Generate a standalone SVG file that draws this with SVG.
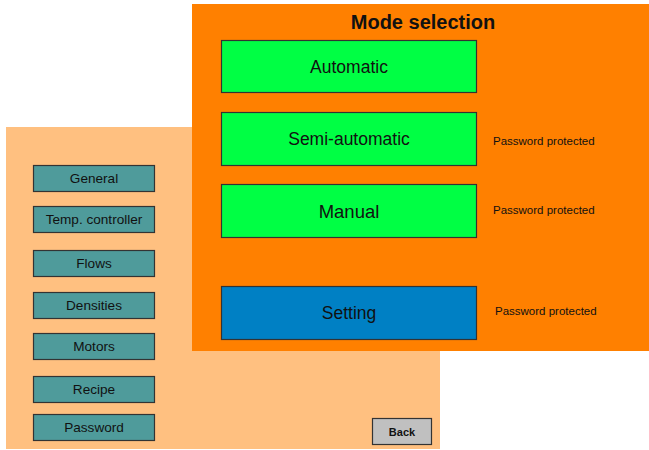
<svg xmlns="http://www.w3.org/2000/svg" width="649" height="450" viewBox="0 0 649 450">
  <style>
    .btn { stroke: #333333; stroke-width: 1.2; }
    .side { fill: #4f9b9b; }
    .green { fill: #00ff44; }
    .blue { fill: #0080c4; }
    .gray { fill: #c0c0c0; }
    text { font-family: "Liberation Sans", Arial, sans-serif; fill: #111111; text-anchor: middle; }
    .small { font-size: 13.6px; }
    .big { font-size: 17.5px; }
    .note { font-size: 11.5px; text-anchor: start; }
  </style>

  <rect width="649" height="450" fill="#ffffff"/>

  <!-- Menu panel (back window) -->
  <g id="menu-panel">
    <rect x="6" y="127" width="434" height="322" fill="#ffc080"/>
  </g>

  <g id="btn-general">
    <rect class="btn side" x="33.5" y="165.5" width="121" height="26"/>
    <text class="small" x="94" y="183">General</text>
  </g>
  <g id="btn-temp">
    <rect class="btn side" x="33.5" y="206.5" width="121" height="26"/>
    <text class="small" x="94" y="224">Temp. controller</text>
  </g>
  <g id="btn-flows">
    <rect class="btn side" x="33.5" y="250.5" width="121" height="26"/>
    <text class="small" x="94" y="268">Flows</text>
  </g>
  <g id="btn-densities">
    <rect class="btn side" x="33.5" y="292.5" width="121" height="26"/>
    <text class="small" x="94" y="310">Densities</text>
  </g>
  <g id="btn-motors">
    <rect class="btn side" x="33.5" y="333.5" width="121" height="26"/>
    <text class="small" x="94" y="351">Motors</text>
  </g>
  <g id="btn-recipe">
    <rect class="btn side" x="33.5" y="376.5" width="121" height="26"/>
    <text class="small" x="94" y="394">Recipe</text>
  </g>
  <g id="btn-password">
    <rect class="btn side" x="33.5" y="414.5" width="121" height="26"/>
    <text class="small" x="94" y="432">Password</text>
  </g>
  <g id="btn-back">
    <rect class="btn gray" x="372.5" y="418.5" width="59" height="26"/>
    <text x="402" y="436" style="font-size:11px;font-weight:bold">Back</text>
  </g>

  <!-- Mode selection window (front) -->
  <g id="mode-panel">
    <rect x="192" y="4" width="457" height="347" fill="#ff8000"/>
    <text x="423" y="29" style="font-size:20px;font-weight:bold">Mode selection</text>
  </g>

  <g id="btn-automatic">
    <rect class="btn green" x="221.5" y="40.5" width="255" height="52"/>
    <text class="big" x="349" y="73">Automatic</text>
  </g>
  <g id="btn-semi">
    <rect class="btn green" x="221.5" y="112.5" width="255" height="53"/>
    <text class="big" x="349" y="145">Semi-automatic</text>
    <text class="note" x="493" y="145">Password protected</text>
  </g>
  <g id="btn-manual">
    <rect class="btn green" x="221.5" y="184.5" width="255" height="53"/>
    <text x="349" y="218" style="font-size:18.5px">Manual</text>
    <text class="note" x="493" y="214">Password protected</text>
  </g>
  <g id="btn-setting">
    <rect class="btn blue" x="221.5" y="286.5" width="255" height="53"/>
    <text class="big" x="349" y="319">Setting</text>
    <text class="note" x="495" y="315">Password protected</text>
  </g>
</svg>
